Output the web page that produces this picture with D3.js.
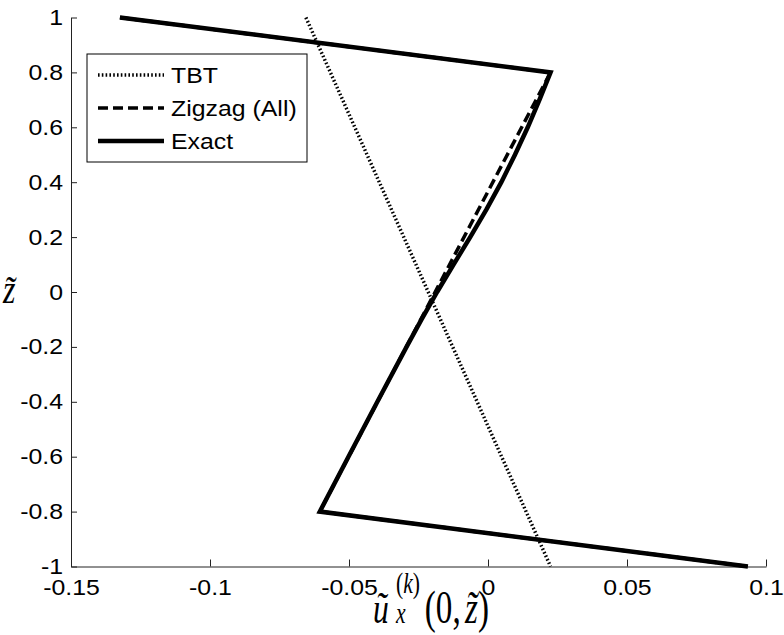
<!DOCTYPE html>
<html>
<head>
<meta charset="utf-8">
<script src="https://cdnjs.cloudflare.com/ajax/libs/d3/7.8.5/d3.min.js"></script>
<style>
  body { margin: 0; background: #fff; }
  svg { display: block; }
  .tick text, .legend text { font-family: Arial, "Liberation Sans", sans-serif; }
</style>
</head>
<body>
<svg id="chart" width="784" height="635"></svg>
<script>
// ----- DATA -----
var xTicks = [-0.15, -0.1, -0.05, 0, 0.05, 0.1];
var xTickLabels = ["-0.15", "-0.1", "-0.05", "0", "0.05", "0.1"];
var yTicks = [-1, -0.8, -0.6, -0.4, -0.2, 0, 0.2, 0.4, 0.6, 0.8, 1];
var yTickLabels = ["-1", "-0.8", "-0.6", "-0.4", "-0.2", "0", "0.2", "0.4", "0.6", "0.8", "1"];

// [u, z] pairs
var tbt = [[-0.0655, 1], [0.0225, -1]];
var zigzag = [[-0.1324, 1], [0.0225, 0.8], [-0.0605, -0.8], [0.0935, -1]];
var exact = [[-0.1324, 1], [0.0225, 0.8], [0.0185, 0.7], [0.0143, 0.6], [0.0097, 0.5],
             [0.0048, 0.4], [-0.0006, 0.3], [-0.0064, 0.2], [-0.0124, 0.1], [-0.0183, 0],
             [-0.0239, -0.1], [-0.0293, -0.2], [-0.0398, -0.4], [-0.0502, -0.6],
             [-0.0605, -0.8], [0.0935, -1]];

var seriesNames = ["TBT", "Zigzag (All)", "Exact"];

// ----- CHART -----
var svg = d3.select("#chart");
var plotLeft = 71, plotRight = 766, plotTop = 17.5, plotBottom = 566.5;
var sx = 1.13; // the reference glyphs are a bit wide

var x = d3.scaleLinear().domain([-0.15, 0.1]).range([plotLeft, plotRight]);
var y = d3.scaleLinear().domain([-1, 1]).range([plotBottom, plotTop]);

var xAxis = d3.axisBottom(x)
    .tickValues(xTicks)
    .tickFormat(function(d, i) { return xTickLabels[i]; })
    .tickSizeInner(-7).tickSizeOuter(0).tickPadding(13);

var yAxis = d3.axisLeft(y)
    .tickValues(yTicks)
    .tickFormat(function(d, i) { return yTickLabels[i]; })
    .tickSizeInner(-6).tickSizeOuter(0).tickPadding(7);

var gx = svg.append("g").attr("transform", "translate(0," + plotBottom + ")").call(xAxis);
var gy = svg.append("g").attr("transform", "translate(" + plotLeft + ",0)").call(yAxis);

[gx, gy].forEach(function(g) {
    g.select(".domain").attr("stroke", "#222");
    g.selectAll(".tick line").attr("stroke", "#222");
    g.selectAll(".tick text")
        .attr("font-size", 22)
        .attr("fill", "#000")
        .attr("transform", "scale(" + sx + ",1)");
});

// ----- LINES -----
var line = d3.line()
    .x(function(d) { return x(d[0]); })
    .y(function(d) { return y(d[1]); });

var dotted = "1.6,2.2", dashed = "10,5";

svg.append("path").datum(tbt)
    .attr("d", line).attr("fill", "none").attr("stroke", "#000")
    .attr("stroke-width", 3.5).attr("stroke-dasharray", dotted);

svg.append("path").datum(exact)
    .attr("d", line).attr("fill", "none").attr("stroke", "#000")
    .attr("stroke-width", 4.5).attr("stroke-linejoin", "miter");

svg.append("path").datum(zigzag)
    .attr("d", line).attr("fill", "none").attr("stroke", "#000")
    .attr("stroke-width", 3.5).attr("stroke-dasharray", dashed);

// ----- LEGEND -----
var legend = svg.append("g").attr("class", "legend");
legend.append("rect")
    .attr("x", 87).attr("y", 54).attr("width", 220).attr("height", 108)
    .attr("fill", "#fff").attr("stroke", "#000").attr("stroke-width", 1);

var legendStyles = [
    { w: 3.5, dash: dotted },
    { w: 3.5, dash: dashed },
    { w: 4.5, dash: null }
];

seriesNames.forEach(function(name, i) {
    var ly = 75 + i * 33;
    legend.append("line")
        .attr("x1", 98).attr("x2", 164).attr("y1", ly).attr("y2", ly)
        .attr("stroke", "#000").attr("stroke-width", legendStyles[i].w)
        .attr("stroke-dasharray", legendStyles[i].dash);
    legend.append("text")
        .attr("transform", "translate(171," + (ly + 8) + ") scale(" + sx + ",1)")
        .attr("font-size", 22)
        .text(name);
});

// ----- AXIS TITLES -----
var serif = "'Liberation Serif', 'DejaVu Serif', serif";
svg.append("text")
    .attr("transform", "translate(3,303) scale(0.8,1)")
    .attr("font-family", serif).attr("font-style", "italic").attr("font-size", 40)
    .text("z\u0303");

// x label: u~_x^(k)(0, z~), glyphs are tall and narrow in the reference
var xl = svg.append("g")
    .attr("transform", "translate(373,623) scale(0.72,1)")
    .attr("font-family", serif);
xl.append("text").attr("x", 0).attr("y", 0)
    .attr("font-style", "italic").attr("font-size", 44).text("u\u0303");
xl.append("text").attr("x", 32).attr("y", 0)
    .attr("font-style", "italic").attr("font-size", 30).text("x");
xl.append("text").attr("x", 32).attr("y", -30)
    .attr("font-size", 30).html("(<tspan font-style='italic'>k</tspan>)");
xl.append("text").attr("x", 72).attr("y", 0)
    .attr("font-size", 46).html("(0,<tspan dx='6' font-style='italic'>z\u0303</tspan>)");
</script>
</body>
</html>
